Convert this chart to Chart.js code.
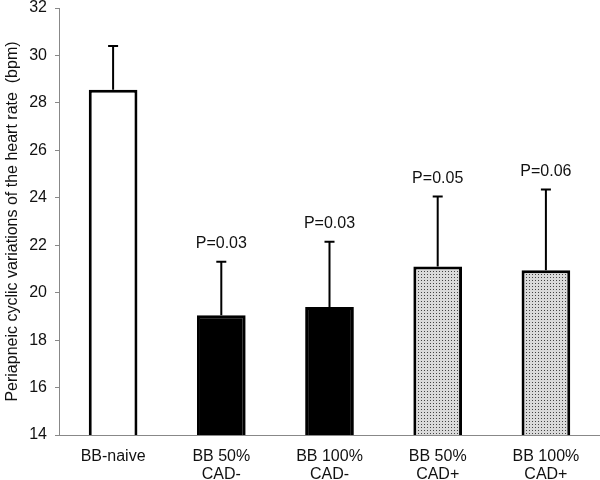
<!DOCTYPE html>
<html>
<head>
<meta charset="utf-8">
<script src="https://cdn.jsdelivr.net/npm/chart.js@4.4.0/dist/chart.umd.min.js"></script>
<style>
  body { margin: 0; background: #ffffff; }
  #wrap { width: 600px; height: 480px; }
</style>
</head>
<body>
<div id="wrap"><canvas id="grafico"></canvas></div>
<script>
// datos
const categorias = [['BB-naive'], ['BB 50%', 'CAD-'], ['BB 100%', 'CAD-'], ['BB 50%', 'CAD+'], ['BB 100%', 'CAD+']];
const medias = [28.55, 19.05, 19.4, 21.1, 20.95];
const errores = [1.85, 2.25, 2.75, 2.95, 3.4];
const pValores = ['', 'P=0.03', 'P=0.03', 'P=0.05', 'P=0.06'];
const tituloY = 'Periapneic cyclic variations of the heart rate  (bpm)';

const fuente = '"Liberation Sans", Arial, sans-serif';

// trama punteada para las barras CAD+
const trama = document.createElement('canvas');
trama.width = 3;
trama.height = 3;
const tctx = trama.getContext('2d');
tctx.fillStyle = '#dadada';
tctx.fillRect(0, 0, 3, 3);
tctx.fillStyle = '#444444';
tctx.fillRect(1, 1, 1, 1);
const patron = document.createElement('canvas').getContext('2d').createPattern(trama, 'repeat');

const rellenos = ['#ffffff', '#000000', '#000000', patron, patron];

const barrasError = {
  id: 'barrasError',
  afterDatasetsDraw (chart) {
    const ctx = chart.ctx;
    const meta = chart.getDatasetMeta(0);
    const y = chart.scales.y;
    ctx.save();
    ctx.strokeStyle = '#000000';
    ctx.lineWidth = 2;
    for (let i = 0; i < medias.length; i++) {
      const x = meta.data[i].x;
      const yTop = y.getPixelForValue(medias[i]);
      const yErr = y.getPixelForValue(medias[i] + errores[i]);
      ctx.beginPath();
      ctx.moveTo(x, yTop);
      ctx.lineTo(x, yErr);
      ctx.moveTo(x - 5, yErr);
      ctx.lineTo(x + 5, yErr);
      ctx.stroke();
      if (pValores[i]) {
        ctx.fillStyle = '#111111';
        ctx.font = '16px ' + fuente;
        ctx.textAlign = 'center';
        ctx.textBaseline = 'bottom';
        ctx.fillText(pValores[i], x, yErr - 10);
      }
    }
    ctx.restore();
  }
};

new Chart(document.getElementById('grafico'), {
  type: 'bar',
  data: {
    labels: categorias,
    datasets: [{
      data: medias,
      backgroundColor: rellenos,
      borderColor: '#000000',
      borderWidth: 3,
      barPercentage: 0.45,
      categoryPercentage: 1
    }]
  },
  options: {
    responsive: true,
    maintainAspectRatio: false,
    animation: false,
    layout: { padding: { top: 0, right: 0, left: 0, bottom: 0 } },
    plugins: {
      legend: { display: false },
      tooltip: { enabled: false }
    },
    scales: {
      x: {
        grid: { display: false },
        border: { color: '#888888', width: 1 },
        ticks: {
          color: '#111111',
          font: { family: fuente, size: 16, lineHeight: 1.15 },
          padding: 4,
          maxRotation: 0
        },
        afterFit: (scale) => { scale.height = 45; }
      },
      y: {
        min: 14,
        max: 32,
        grid: { display: true, drawOnChartArea: false, drawTicks: true, tickLength: 4, color: '#888888' },
        border: { color: '#888888', width: 1 },
        ticks: {
          stepSize: 2,
          color: '#111111',
          font: { family: fuente, size: 16 },
          padding: 8
        },
        title: {
          display: true,
          text: tituloY,
          color: '#111111',
          font: { family: fuente, size: 16 },
          padding: { top: 3, bottom: 0 }
        },
        afterFit: (scale) => {
          scale.width = 59;
          scale.paddingTop = 8;
        }
      }
    }
  },
  plugins: [barrasError]
});
</script>
</body>
</html>
